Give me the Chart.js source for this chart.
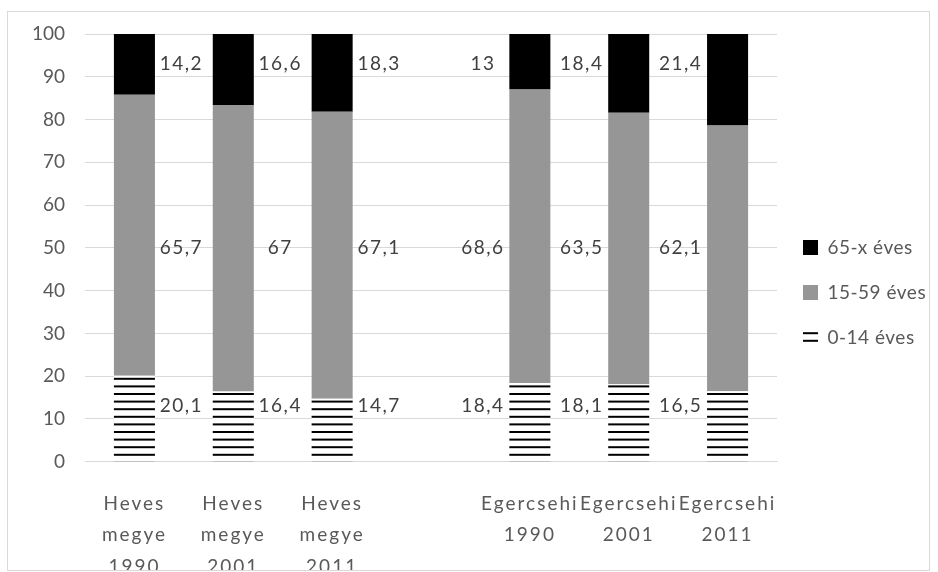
<!DOCTYPE html>
<html><head><meta charset="utf-8">
<script src="https://cdn.jsdelivr.net/npm/chart.js@4.4.1/dist/chart.umd.min.js"></script>
<style>
html,body{margin:0;padding:0;background:#fff;}
#frame{position:absolute;left:7px;top:11px;width:923px;height:560px;box-sizing:border-box;border:1px solid #d9d9d9;overflow:hidden;background:#fff;}
canvas{display:block;}
</style></head><body>
<div id="frame"><canvas id="c" width="921" height="558"></canvas></div>
<script>
// ---- data ----
const categories = [["Heves","megye","1990"],["Heves","megye","2001"],["Heves","megye","2011"],"",["Egercsehi","1990"],["Egercsehi","2001"],["Egercsehi","2011"]];
const seriesNames = ["0-14 éves","15-59 éves","65-x éves"];
const age0to14 = [20.1,16.4,14.7,null,18.4,18.1,16.5];
const age15to59 = [65.7,67,67.1,null,68.6,63.5,62.1];
const age65plus = [14.2,16.6,18.3,null,13,18.4,21.4];
const yTickValues = [0,10,20,30,40,50,60,70,80,90,100];

// ---- styling helpers ----
const FONT = 'Lato';
function stripePattern(ctx){
  const t=document.createElement('canvas'); t.width=8; t.height=38;
  const g=t.getContext('2d'); g.fillStyle='#fff'; g.fillRect(0,0,8,38);
  g.fillStyle='#000';
  for(let k=0;k<5;k++) g.fillRect(0, k*7.6+1, 8, 2);
  return ctx.createPattern(t,'repeat');
}
const canvas=document.getElementById('c');
const ctx=canvas.getContext('2d');
const splitIndex = categories.indexOf("");

function wrapLabels(scale, spacing){
  if(!scale || scale._spWrap) return;
  const orig=scale.drawLabels.bind(scale);
  scale.drawLabels=(ca)=>{const c=scale.ctx; const ls=c.letterSpacing; c.letterSpacing=spacing; orig(ca); c.letterSpacing=ls;};
  scale._spWrap=true;
}
const spacingPlugin = {
  id:'spacing',
  beforeLayout(chart){ chart.ctx.letterSpacing='0.5px'; },
  afterLayout(chart){
    const lg=chart.legend;
    if(lg){ lg.top=2; lg.bottom=559; }
  },
  beforeDraw(chart){
    chart.ctx.letterSpacing='0.5px';
    wrapLabels(chart.scales.y,'0px');
    wrapLabels(chart.scales.x,'2px');
  }
};

const sideLabels = {
  id:'sideLabels',
  afterDatasetsDraw(chart, args, opts){
    const c=chart.ctx, xs=chart.scales.x, ys=chart.scales.y;
    const step = xs.getPixelForValue(1)-xs.getPixelForValue(0);
    c.save();
    c.font = '19px ' + FONT; c.fillStyle='#404040'; c.textAlign='center'; c.textBaseline='middle'; c.letterSpacing='1.5px';
    chart.data.datasets.forEach((ds,di)=>{
      const meta=chart.getDatasetMeta(di);
      ds.data.forEach((v,i)=>{
        if(v==null) return;
        const bar=meta.data[i];
        const side = i < opts.splitIndex ? 1 : -1;
        const x = bar.x + side*step*opts.offset;
        const y = ys.getPixelForValue(opts.levels[di]);
        c.fillText(String(v).replace('.',','), x, y);
      });
    });
    c.restore();
  }
};

new Chart(ctx,{
  type:'bar',
  data:{
    labels:categories,
    datasets:[
      {label:seriesNames[0], data:age0to14, backgroundColor:stripePattern(ctx), borderWidth:0},
      {label:seriesNames[1], data:age15to59, backgroundColor:'#969696', borderWidth:0},
      {label:seriesNames[2], data:age65plus, backgroundColor:'#000000', borderWidth:0}
    ]
  },
  plugins:[spacingPlugin, sideLabels],
  options:{
    responsive:false, animation:false,
    categoryPercentage:1, barPercentage:0.415,
    layout:{padding:{top:22,left:0,right:0,bottom:0}},
    plugins:{
      legend:{position:'right', reverse:true, maxWidth:152,
        labels:{boxWidth:15, boxHeight:15, padding:26, color:'#595959', font:{family:FONT,size:19}}},
      tooltip:{enabled:false},
      sideLabels:{levels:[13,50,93], offset:0.475, splitIndex:splitIndex}
    },
    scales:{
      x:{stacked:true, grid:{display:false}, border:{display:true,color:'#d9d9d9'},
        ticks:{color:'#595959', font:{family:FONT,size:19,lineHeight:1.66}, padding:18, maxRotation:0, minRotation:0, autoSkip:false},
        afterFit(s){ s.height=108.3; }},
      y:{stacked:true, min:0, max:100,
        grid:{color:'#d9d9d9', drawTicks:false}, border:{display:false},
        ticks:{stepSize:10, color:'#595959', font:{family:FONT,size:19}, padding:20},
        afterBuildTicks(s){ s.ticks = yTickValues.map(v=>({value:v})); },
        afterFit(s){ s.width=77; s.paddingTop=0; s.paddingBottom=0; }}
    }
  }
});
</script>
</body></html>
